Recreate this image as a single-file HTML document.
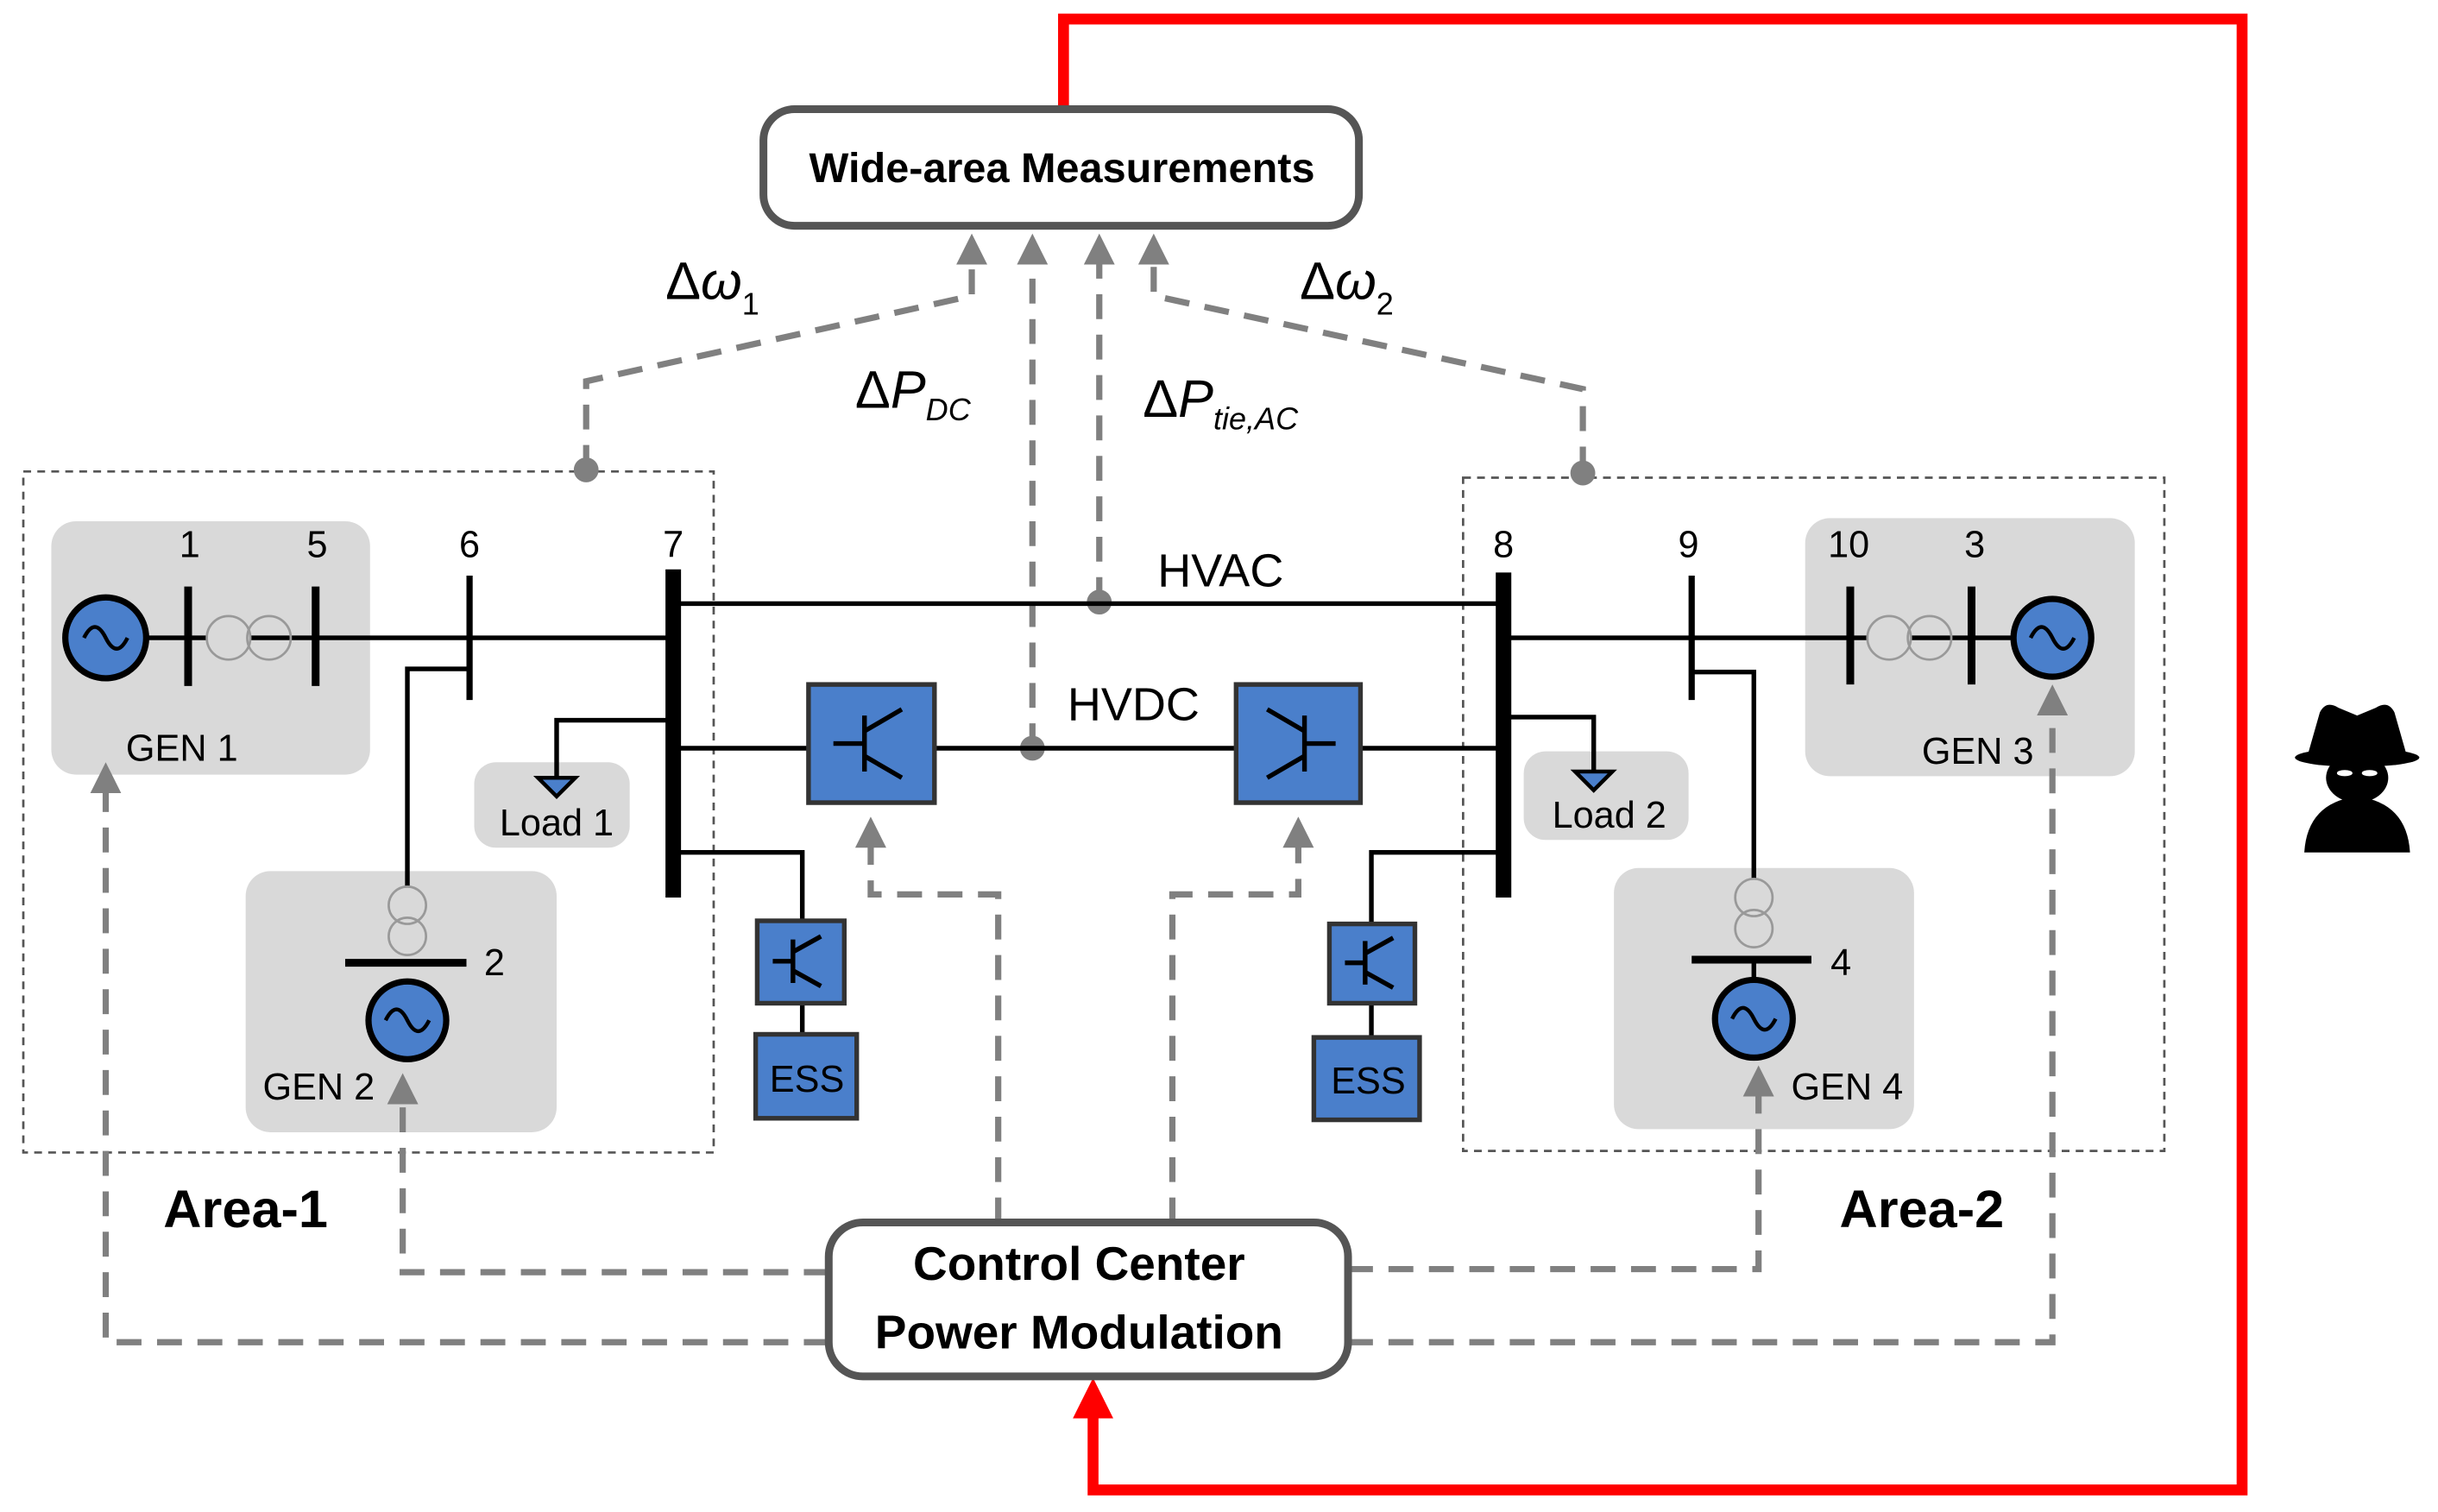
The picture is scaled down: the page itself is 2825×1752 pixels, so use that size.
<!DOCTYPE html>
<html><head><meta charset="utf-8"><style>
html,body{margin:0;padding:0;background:#fff;}
svg{display:block;}
text{font-family:"Liberation Sans",sans-serif;}
</style></head><body>
<svg width="2825" height="1752" viewBox="0 0 1568 972" xmlns="http://www.w3.org/2000/svg">
<defs>
<marker id="ga" markerWidth="5" markerHeight="5" refX="2.5" refY="2.5" orient="auto" markerUnits="strokeWidth">
<path d="M0,0 L5,2.5 L0,5 z" fill="#808080"/></marker>
</defs>
<rect width="1568" height="972" fill="#fff"/>
<path d="M684,70 V12 H1442 V958 H703 V905" fill="none" stroke="#f00" stroke-width="7"/>
<path d="M703,886 L690,912 L716,912 z" fill="#f00"/>
<rect x="15" y="303" width="444" height="438" fill="none" stroke="#555" stroke-width="1.5" stroke-dasharray="5,4"/>
<rect x="941" y="307" width="451" height="433" fill="none" stroke="#555" stroke-width="1.5" stroke-dasharray="5,4"/>
<g fill="#d9d9d9">
<rect x="33" y="335" width="205" height="163" rx="16"/>
<rect x="305" y="490" width="100" height="55" rx="14"/>
<rect x="158" y="560" width="200" height="168" rx="16"/>
<rect x="980" y="483" width="106" height="57" rx="14"/>
<rect x="1161" y="333" width="212" height="166" rx="16"/>
<rect x="1038" y="558" width="193" height="168" rx="16"/>
</g>
<g fill="none" stroke="#808080" stroke-width="4" stroke-dasharray="16,10">
<path d="M377,302 V245 L625,190 V160" marker-end="url(#ga)"/>
<path d="M664,481 V160" marker-end="url(#ga)"/>
<path d="M707,387 V160" marker-end="url(#ga)"/>
<path d="M1018,303 V250 L742,190 V160" marker-end="url(#ga)"/>
<path d="M533,863 H68 V500" marker-end="url(#ga)"/>
<path d="M533,818 H259 V700" marker-end="url(#ga)"/>
<path d="M642,786 V575 H560 V535" marker-end="url(#ga)"/>
<path d="M754,786 V575 H835 V535" marker-end="url(#ga)"/>
<path d="M867,816 H1131 V695" marker-end="url(#ga)"/>
<path d="M867,863 H1320 V450" marker-end="url(#ga)"/>
</g>
<g fill="#808080"><circle cx="377" cy="302" r="8"/><circle cx="1018" cy="304" r="8"/><circle cx="664" cy="481" r="8"/><circle cx="707" cy="387" r="8"/></g>
<g fill="none" stroke="#000" stroke-width="3">
<path d="M68,410 H433"/>
<path d="M302,430 H262 V570"/>
<path d="M433,463 H358 V500"/>
<path d="M433,388 H967"/>
<path d="M433,481 H967"/>
<path d="M433,548 H516 V592"/>
<path d="M516,645 V665"/>
<path d="M967,548 H882 V594"/>
<path d="M882,645 V667"/>
<path d="M967,410 H1320"/>
<path d="M1088,432 H1128 V565"/>
<path d="M967,461 H1025 V495"/>
<path d="M1128,617 V630"/>
</g>
<g stroke="#000" stroke-linecap="butt">
<line x1="433" y1="366" x2="433" y2="577" stroke-width="10"/>
<line x1="967" y1="368" x2="967" y2="577" stroke-width="10"/>
<line x1="121" y1="377" x2="121" y2="441" stroke-width="5"/>
<line x1="203" y1="377" x2="203" y2="441" stroke-width="5"/>
<line x1="302" y1="370" x2="302" y2="450" stroke-width="4"/>
<line x1="1088" y1="370" x2="1088" y2="450" stroke-width="4"/>
<line x1="1190" y1="377" x2="1190" y2="440" stroke-width="5"/>
<line x1="1268" y1="377" x2="1268" y2="440" stroke-width="5"/>
<line x1="222" y1="619" x2="300" y2="619" stroke-width="5"/>
<line x1="1088" y1="617" x2="1165" y2="617" stroke-width="5"/>
</g>
<g fill="none" stroke="#999" stroke-width="1.5">
<circle cx="147" cy="410" r="14" fill="#d9d9d9"/><circle cx="173" cy="410" r="14"/>
<circle cx="1215" cy="410" r="14" fill="#d9d9d9"/><circle cx="1241" cy="410" r="14"/>
<circle cx="262" cy="582" r="12"/><circle cx="262" cy="602" r="12"/>
<circle cx="1128" cy="577" r="12"/><circle cx="1128" cy="597" r="12"/>
</g>
<g fill="#4a7fcb" stroke="#000" stroke-width="4">
<circle cx="68" cy="410" r="26"/><circle cx="262" cy="656" r="25"/>
<circle cx="1320" cy="410" r="25"/><circle cx="1128" cy="655" r="25"/>
</g>
<g fill="none" stroke="#000" stroke-width="2.5">
<path d="M54,410 q7,-14 14,0 t14,0"/><path d="M248,656 q7,-14 14,0 t14,0"/>
<path d="M1306,410 q7,-14 14,0 t14,0"/><path d="M1114,655 q7,-14 14,0 t14,0"/>
</g>
<path d="M346,500 H370 L358,512 z" fill="#4a7fcb" stroke="#000" stroke-width="2.5"/>
<path d="M1013,496 H1037 L1025,508 z" fill="#4a7fcb" stroke="#000" stroke-width="2.5"/>
<g fill="#4a7fcb" stroke="#333" stroke-width="3">
<rect x="520" y="440" width="81" height="76"/>
<rect x="795" y="440" width="80" height="76"/>
<rect x="487" y="592" width="56" height="53"/>
<rect x="855" y="594" width="55" height="51"/>
<rect x="486" y="665" width="65" height="54"/>
<rect x="845" y="667" width="68" height="53"/>
</g>
<g fill="none" stroke="#000" stroke-width="3">
<path d="M536,478 H556 M556,460 V496 M556,470 L580,456 M556,486 L580,500"/>
<path d="M859,478 H839 M839,460 V496 M839,470 L815,456 M839,486 L815,500"/>
<path d="M497,618 H510 M510,604 V632 M510,612 L528,602 M510,624 L528,634"/>
<path d="M865,619 H878 M878,605 V633 M878,613 L896,603 M878,625 L896,635"/>
</g>
<rect x="491" y="70" width="383" height="75" rx="20" fill="#fff" stroke="#555" stroke-width="5"/>
<text x="683" y="117" font-size="27" font-weight="bold" text-anchor="middle">Wide-area Measurements</text>
<rect x="533" y="786" width="334" height="99" rx="22" fill="#fff" stroke="#555" stroke-width="5"/>
<text x="694" y="823" font-size="30.5" font-weight="bold" text-anchor="middle">Control Center</text>
<text x="694" y="867" font-size="30.5" font-weight="bold" text-anchor="middle">Power Modulation</text>
<g font-size="24" text-anchor="middle">
<text x="122" y="358">1</text><text x="204" y="358">5</text><text x="302" y="358">6</text>
<text x="433" y="358">7</text><text x="967" y="358">8</text><text x="1086" y="358">9</text>
<text x="1189" y="358">10</text><text x="1270" y="358">3</text>
<text x="318" y="627">2</text><text x="1184" y="627">4</text>
<text x="117" y="489">GEN 1</text><text x="205" y="707">GEN 2</text>
<text x="1272" y="491">GEN 3</text><text x="1188" y="707">GEN 4</text>
<text x="358" y="537">Load 1</text><text x="1035" y="532">Load 2</text>
<text x="519" y="702">ESS</text><text x="880" y="703">ESS</text>
<text x="785" y="377" font-size="30">HVAC</text>
<text x="729" y="463" font-size="30">HVDC</text>
</g>
<text x="158" y="789" font-size="34" font-weight="bold" text-anchor="middle">Area-1</text>
<text x="1236" y="789" font-size="34" font-weight="bold" text-anchor="middle">Area-2</text>
<g font-family="Liberation Serif,serif" font-size="34">
<text x="428" y="192">Δ<tspan font-style="italic">ω</tspan><tspan font-size="20" dy="10">1</tspan></text>
<text x="836" y="192">Δ<tspan font-style="italic">ω</tspan><tspan font-size="20" dy="10">2</tspan></text>
<text x="550" y="262">Δ<tspan font-style="italic">P</tspan><tspan font-size="20" font-style="italic" dy="8">DC</tspan></text>
<text x="735" y="268">Δ<tspan font-style="italic">P</tspan><tspan font-size="20" font-style="italic" dy="8">tie,AC</tspan></text>
</g>
<g fill="#000">
<path d="M1484,486 L1492,458 Q1496,450 1504,455 L1516,460 L1528,455 Q1536,450 1540,458 L1548,486 z"/>
<ellipse cx="1516" cy="487" rx="40" ry="6"/>
<ellipse cx="1516" cy="500" rx="20" ry="16"/>
<path d="M1482,548 Q1484,516 1516,512 Q1548,516 1550,548 z"/>
</g>
<g fill="#fff"><ellipse cx="1508" cy="497" rx="5" ry="2"/><ellipse cx="1524" cy="497" rx="5" ry="2"/></g>
</svg>
</body></html>
